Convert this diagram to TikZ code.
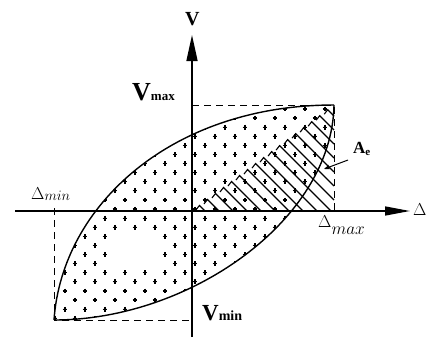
\documentclass[tikz,border=0pt]{standalone}
\usepackage{fontspec}
\setmainfont{Liberation Serif}
\usetikzlibrary{arrows.meta}
\begin{document}
\begin{tikzpicture}[x=1pt,y=-1pt,
  axis/.style={line width=1.5pt},
  curve/.style={line width=1.4pt},
  guide/.style={line width=1pt, dash pattern=on 7pt off 5pt},
  hatchline/.style={line width=1.1pt},
  dotarm/.style={line width=1.2pt},
  lbl/.style={inner sep=0pt, anchor=base west},
]
\useasboundingbox (0,0) rectangle (427,340);
% key points
\coordinate (O) at (192,211);
\coordinate (Vtop) at (192,35);
\coordinate (Vbot) at (192,337);
\coordinate (Hl) at (15,211);
\coordinate (Hr) at (410,211);
\coordinate (Pmax) at (334,105);
\coordinate (Pmin) at (54,320);
\coordinate (Vmx) at (192,105);
\coordinate (Dmx) at (334,211);
\coordinate (Dmn) at (54,208);
\coordinate (Vmn) at (192,320);
% dots inside the lens
\begin{scope}
  \clip (Pmin) .. controls (62,205) and (172,105) .. (Pmax)
        .. controls (332,220) and (190,320) .. (Pmin) -- cycle;
  \foreach \j in {-11,...,12}{
    \foreach \i in {5,...,34}{
      \pgfmathtruncatemacro\p{mod(\i+\j+100,2)}
      \pgfmathsetmacro\xx{5+10*\i}
      \pgfmathsetmacro\yy{209+9.1*(\j)}
      \pgfmathtruncatemacro\h{(\xx>110)*(\xx<160)*(\yy>232)*(\yy<267)}
      \ifnum\p=1 \ifnum\h=0
        \fill (\xx,\yy) circle[radius=1.5pt];
        \draw[dotarm] (\xx-2.4,\yy) -- (\xx+2.4,\yy) (\xx,\yy-2.4) -- (\xx,\yy+2.4);
      \fi\fi
    }
  }
\end{scope}
% hatching of A_e
\foreach \b in {205,219,...,431}{
  \pgfmathsetmacro\xt{(\b+143.33)/1.7465}
  \pgfmathsetmacro\yt{211+\xt-\b}
  \pgfmathsetmacro\xb{min(\b,334)}
  \pgfmathsetmacro\yb{211+\xb-\b}
  \draw[hatchline,line join=miter] (\xt-3.5,\yt+4.5) -- (\xt,\yt) -- (\xb,\yb);
}
% guide lines
\draw[guide] (Vmx) -- (Pmax) -- (Dmx);
\draw[guide] (Dmn) -- (Pmin) -- (Vmn);
% lens curves
\draw[curve] (Pmin) .. controls (62,205) and (172,105) .. (Pmax);
\draw[curve] (Pmax) .. controls (332,220) and (190,320) .. (Pmin);
% axes
\draw[axis,-{Triangle[length=26pt,width=11pt]}] (Vbot) -- (Vtop);
\draw[axis,-{Triangle[length=25pt,width=9pt]}] (Hl) -- (Hr);
% labels
\node[lbl] (tV) at (185,25) {\fontsize{20}{20}\selectfont\bfseries V};
\node[lbl] (vmax) at (132,100) {\fontsize{26}{26}\selectfont\bfseries V\fontsize{13}{13}\selectfont max};
\node[lbl] (vmin) at (202,320) {\fontsize{23}{23}\selectfont\bfseries V\fontsize{14}{14}\selectfont min};
\node[lbl] (dmin) at (31,199) {\fontsize{19}{19}\selectfont$\Delta$\raisebox{-1.5pt}{\fontsize{15}{15}\selectfont$min$}};
\node[lbl] (dmax) at (318,227) {\fontsize{18}{18}\selectfont$\Delta$\raisebox{-7pt}{\fontsize{16}{16}\selectfont$max$}};
\node[lbl] (ae) at (353,153) {\fontsize{17}{17}\selectfont\bfseries A\raisebox{-2pt}{\fontsize{11}{11}\selectfont e}};
\node[lbl] (dr) at (413,215) {\fontsize{16}{16}\selectfont$\Delta$};
% A_e pointer
\coordinate (aeS) at (348,160);
\coordinate (aeT) at (324,169);
\draw[line width=1pt,-{Stealth[length=6pt,width=4.5pt]}] (aeS) -- (aeT);
\end{tikzpicture}
\end{document}
